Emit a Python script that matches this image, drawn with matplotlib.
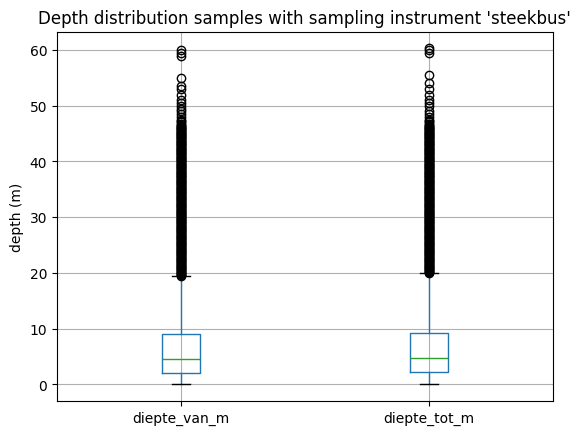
import matplotlib
matplotlib.use("Agg")
import matplotlib.pyplot as plt

labels = ["diepte_van_m", "diepte_tot_m"]
q1 = [2.0, 2.3]
med = [4.5, 4.8]
q3 = [9.0, 9.3]
whislo = [0.0, 0.0]
whishi = [19.4, 19.9]

# dense column of outliers (thousands of points in the source data)
dense = [20.0, 20.25, 20.5, 20.75, 21.0, 21.25, 21.5, 21.75, 22.0, 22.25, 22.5, 22.75,
         23.0, 23.25, 23.5, 23.75, 24.0, 24.25, 24.5, 24.75, 25.0, 25.25, 25.5, 25.75,
         26.0, 26.25, 26.5, 26.75, 27.0, 27.25, 27.5, 27.75, 28.0, 28.25, 28.5, 28.75,
         29.0, 29.25, 29.5, 29.75, 30.0, 30.25, 30.5, 30.75, 31.0, 31.25, 31.5, 31.75,
         32.0, 32.25, 32.5, 32.75, 33.0, 33.25, 33.5, 33.75, 34.0, 34.25, 34.5, 34.75,
         35.0, 35.25, 35.5, 35.75, 36.0, 36.25, 36.5, 36.75, 37.0, 37.25, 37.5, 37.75,
         38.0, 38.25, 38.5, 38.75, 39.0, 39.25, 39.5, 39.75, 40.0, 40.25, 40.5, 40.75,
         41.0, 41.25, 41.5, 41.75, 42.0, 42.25, 42.5, 42.75, 43.0, 43.25, 43.5, 43.75,
         44.0, 44.25, 44.5, 44.75, 45.0, 45.25, 45.5, 45.75, 46.0, 46.25, 46.5, 46.75,
         47.0, 47.25, 47.5]
dense_between = [20.125, 20.375, 20.625, 20.875, 21.125, 21.375, 21.625, 21.875,
                 22.125, 22.375, 22.625, 22.875, 23.125, 23.375, 23.625, 23.875,
                 24.125, 24.375, 24.625, 24.875, 25.125, 25.375, 25.625, 25.875,
                 26.125, 26.375, 26.625, 26.875, 27.125, 27.375, 27.625, 27.875,
                 28.125, 28.375, 28.625, 28.875, 29.125, 29.375, 29.625, 29.875,
                 30.125, 30.375, 30.625, 30.875, 31.125, 31.375, 31.625, 31.875,
                 32.125, 32.375, 32.625, 32.875, 33.125, 33.375, 33.625, 33.875,
                 34.125, 34.375, 34.625, 34.875, 35.125, 35.375, 35.625, 35.875,
                 36.125, 36.375, 36.625, 36.875, 37.125, 37.375, 37.625, 37.875,
                 38.125, 38.375, 38.625, 38.875, 39.125, 39.375, 39.625, 39.875,
                 40.125, 40.375, 40.625, 40.875, 41.125, 41.375, 41.625, 41.875,
                 42.125, 42.375, 42.625, 42.875, 43.125, 43.375, 43.625, 43.875,
                 44.125, 44.375, 44.625, 44.875, 45.125, 45.375, 45.625, 45.875,
                 46.125, 46.375]
sparse_van = [48.0, 48.5, 49.0, 49.5, 50.0, 50.5, 51.0, 52.0, 53.0, 53.5, 55.0, 59.0, 59.5, 60.0]
sparse_tot = [48.0, 48.5, 49.0, 50.0, 50.5, 51.0, 52.0, 53.0, 54.0, 55.5, 59.5, 60.0, 60.3]
fliers = [[19.5, 19.625, 19.75, 19.875] + dense + dense_between + sparse_van,
          dense + dense_between + sparse_tot]

stats = []
for i in range(len(labels)):
    stats.append(dict(label=labels[i], q1=q1[i], med=med[i], q3=q3[i],
                      whislo=whislo[i], whishi=whishi[i], fliers=fliers[i]))

fig, ax = plt.subplots(figsize=(6.4, 4.8), dpi=100)
ax.bxp(stats, widths=0.15,
       boxprops=dict(color="#1f77b4"),
       whiskerprops=dict(color="#1f77b4"),
       capprops=dict(color="k"),
       medianprops=dict(color="#2ca02c"),
       flierprops=dict(marker="o", markeredgecolor="k", markerfacecolor="none"))
ax.grid(True)
ax.set_title("Depth distribution samples with sampling instrument 'steekbus'")
ax.set_ylabel("depth (m)")
fig.savefig("out.png", bbox_inches="tight")
